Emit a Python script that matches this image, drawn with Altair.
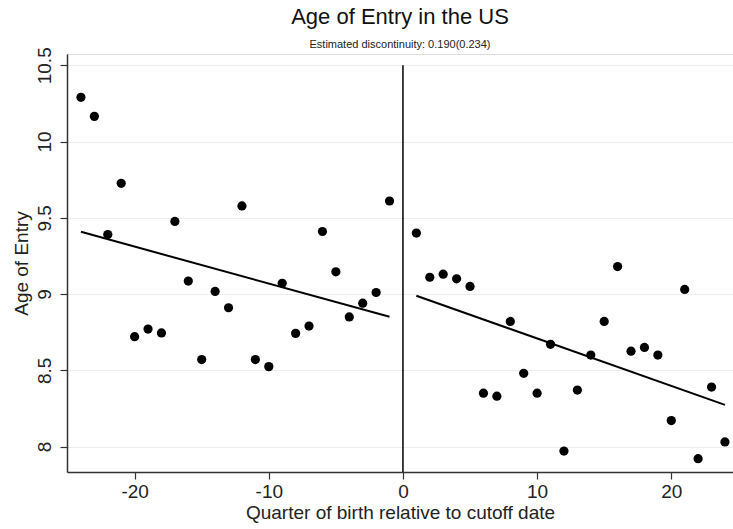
import altair as alt
import pandas as pd

# Left of cutoff
left_q = [-24, -23, -22, -21, -20, -19, -18, -17, -16, -15, -14, -13,
          -12, -11, -10, -9, -8, -7, -6, -5, -4, -3, -2, -1]
left_age = [10.29, 10.165, 9.39, 9.726, 8.72, 8.77, 8.745, 9.476, 9.085, 8.57, 9.017, 8.91,
            9.578, 8.57, 8.524, 9.07, 8.742, 8.79, 9.41, 9.146, 8.85, 8.94, 9.01, 9.61]
# Right of cutoff
right_q = [1, 2, 3, 4, 5, 6, 7, 8, 9, 10, 11, 12,
           13, 14, 15, 16, 17, 18, 19, 20, 21, 22, 23, 24]
right_age = [9.40, 9.11, 9.13, 9.10, 9.05, 8.35, 8.33, 8.82, 8.48, 8.35, 8.67, 7.97,
             8.37, 8.60, 8.82, 9.18, 8.625, 8.65, 8.60, 8.17, 9.03, 7.92, 8.39, 8.03]

x_ticks = [-20, -10, 0, 10, 20]
y_ticks = [8, 8.5, 9, 9.5, 10, 10.5]
cutoff = [0]

df = pd.DataFrame({
    "q": left_q + right_q,
    "age": left_age + right_age,
    "side": ["left"] * len(left_q) + ["right"] * len(right_q),
})
cut_df = pd.DataFrame({"q": cutoff, "top": [y_ticks[-1]]})

FONT = "Liberation Sans"
xs = alt.Scale(domain=[-25.04, 24.6], nice=False, zero=False)
ys = alt.Scale(domain=[7.833, 10.574], nice=False, zero=False)

x_enc = alt.X(
    "q:Q", scale=xs,
    axis=alt.Axis(values=x_ticks, title="Quarter of birth relative to cutoff date",
                  labelExpr="datum.value + ''", grid=False,
                  tickSize=7, tickColor="#333333", tickWidth=1.2,
                  domainColor="#333333", domainWidth=1.5,
                  labelFontSize=19, titleFontSize=19, labelPadding=3, titlePadding=2,
                  labelColor="#222222", titleColor="#222222",
                  labelFont=FONT, titleFont=FONT, titleFontWeight="normal"),
)
y_enc = alt.Y(
    "age:Q", scale=ys,
    axis=alt.Axis(values=y_ticks, title="Age of Entry",
                  labelExpr="datum.value + ''", grid=True, gridColor="#ececec", gridWidth=1,
                  tickSize=7, tickColor="#333333", tickWidth=1.2,
                  domainColor="#333333", domainWidth=1.5,
                  labelAngle=270, labelAlign="center", labelBaseline="bottom",
                  labelFontSize=19, titleFontSize=19, labelPadding=6, titlePadding=4,
                  labelColor="#222222", titleColor="#222222",
                  labelFont=FONT, titleFont=FONT, titleFontWeight="normal"),
)

points = alt.Chart(df).mark_circle(size=85, color="black", opacity=1).encode(x=x_enc, y=y_enc)

fits = alt.Chart(df).transform_regression(
    "q", "age", groupby=["side"]
).mark_line(color="black", strokeWidth=2).encode(
    x=alt.X("q:Q", scale=xs), y=alt.Y("age:Q", scale=ys), detail="side:N"
)

vline = alt.Chart(cut_df).mark_rule(color="black", strokeWidth=1.5).encode(
    x=alt.X("q:Q", scale=xs), y=alt.Y("top:Q", scale=ys), y2=alt.value(418)
)

chart = alt.layer(vline, points, fits).properties(
    width=666, height=418,
    title=alt.TitleParams(
        text="Age of Entry in the US",
        subtitle="Estimated discontinuity: 0.190(0.234)",
        anchor="middle", frame="group", font=FONT, fontSize=22, fontWeight="normal",
        color="#111111", subtitleFont=FONT, subtitleFontSize=11, subtitleColor="#222222",
        subtitlePadding=10, offset=-4,
    ),
    autosize=alt.AutoSizeParams(type="none"),
    padding={"left": 67, "top": 54, "right": 0, "bottom": 57},
).configure_view(stroke=None).configure(background="white")

chart.save("out.html", embed_options={"renderer": "svg", "actions": False})
